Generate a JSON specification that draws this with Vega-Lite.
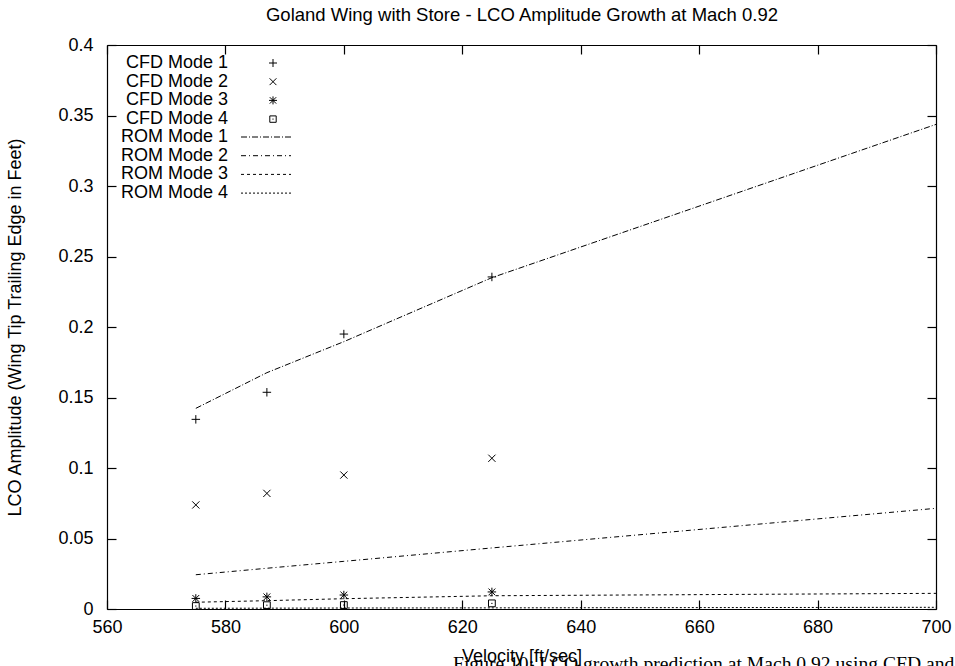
{
  "$schema": "https://vega.github.io/schema/vega-lite/v6.json",
  "width": 829,
  "height": 564,
  "autosize": {"type": "none"},
  "padding": {"left": 107, "top": 45, "right": 19, "bottom": 57},
  "background": "white",
  "config": {
    "font": "Liberation Sans",
    "view": {"stroke": null},
    "axis": {
      "grid": false,
      "domainColor": "black",
      "domainWidth": 1.2,
      "tickColor": "black",
      "tickWidth": 1.2,
      "tickSize": -9,
      "labelColor": "black",
      "titleColor": "black",
      "labelFont": "Liberation Sans",
      "titleFont": "Liberation Sans",
      "labelFontSize": 18,
      "titleFontSize": 18,
      "titleFontWeight": "normal"
    },
    "legend": {
      "labelFont": "Liberation Sans",
      "labelFontSize": 18,
      "labelColor": "black",
      "padding": 0,
      "rowPadding": 0.7
    }
  },
  "title": {
    "text": "Figure 10: LCO growth prediction at Mach 0.92 using CFD and ROM",
    "orient": "bottom",
    "anchor": "start",
    "frame": "group",
    "dx": 346,
    "offset": 5,
    "baseline": "alphabetic",
    "font": "Liberation Serif",
    "fontSize": 19.6,
    "fontWeight": "normal",
    "color": "black"
  },
  "datasets": {
    "rom": [
      {"series": "ROM Mode 1", "velocity": 575, "amplitude": 0.1423},
      {"series": "ROM Mode 1", "velocity": 587, "amplitude": 0.1676},
      {"series": "ROM Mode 1", "velocity": 600, "amplitude": 0.1896},
      {"series": "ROM Mode 1", "velocity": 625, "amplitude": 0.235},
      {"series": "ROM Mode 1", "velocity": 700, "amplitude": 0.3437},
      {"series": "ROM Mode 2", "velocity": 575, "amplitude": 0.0243},
      {"series": "ROM Mode 2", "velocity": 587, "amplitude": 0.0289},
      {"series": "ROM Mode 2", "velocity": 600, "amplitude": 0.0338},
      {"series": "ROM Mode 2", "velocity": 625, "amplitude": 0.0433},
      {"series": "ROM Mode 2", "velocity": 700, "amplitude": 0.0714},
      {"series": "ROM Mode 3", "velocity": 575, "amplitude": 0.0048},
      {"series": "ROM Mode 3", "velocity": 587, "amplitude": 0.0059},
      {"series": "ROM Mode 3", "velocity": 600, "amplitude": 0.0073},
      {"series": "ROM Mode 3", "velocity": 625, "amplitude": 0.0094},
      {"series": "ROM Mode 3", "velocity": 700, "amplitude": 0.0111},
      {"series": "ROM Mode 4", "velocity": 575, "amplitude": 0.0005},
      {"series": "ROM Mode 4", "velocity": 587, "amplitude": 0.0006},
      {"series": "ROM Mode 4", "velocity": 600, "amplitude": 0.0007},
      {"series": "ROM Mode 4", "velocity": 625, "amplitude": 0.0008},
      {"series": "ROM Mode 4", "velocity": 700, "amplitude": 0.0012}
    ],
    "cfd": [
      {"series": "CFD Mode 1", "velocity": 575, "amplitude": 0.1345},
      {"series": "CFD Mode 1", "velocity": 587, "amplitude": 0.1537},
      {"series": "CFD Mode 1", "velocity": 600, "amplitude": 0.195},
      {"series": "CFD Mode 1", "velocity": 625, "amplitude": 0.2355},
      {"series": "CFD Mode 2", "velocity": 575, "amplitude": 0.0738},
      {"series": "CFD Mode 2", "velocity": 587, "amplitude": 0.082},
      {"series": "CFD Mode 2", "velocity": 600, "amplitude": 0.095},
      {"series": "CFD Mode 2", "velocity": 625, "amplitude": 0.1069},
      {"series": "CFD Mode 3", "velocity": 575, "amplitude": 0.0075},
      {"series": "CFD Mode 3", "velocity": 587, "amplitude": 0.0086},
      {"series": "CFD Mode 3", "velocity": 600, "amplitude": 0.0099},
      {"series": "CFD Mode 3", "velocity": 625, "amplitude": 0.0121},
      {"series": "CFD Mode 4", "velocity": 575, "amplitude": 0.0021},
      {"series": "CFD Mode 4", "velocity": 587, "amplitude": 0.0027},
      {"series": "CFD Mode 4", "velocity": 600, "amplitude": 0.0028},
      {"series": "CFD Mode 4", "velocity": 625, "amplitude": 0.004}
    ]
  },
  "layer": [
    {
      "data": {"name": "rom"},
      "mark": {"type": "line", "color": "black", "strokeWidth": 1},
      "encoding": {
        "x": {
          "field": "velocity",
          "type": "quantitative",
          "scale": {"domain": [560, 700], "nice": false, "zero": false},
          "axis": {
            "orient": "bottom",
            "values": [560, 580, 600, 620, 640, 660, 680, 700],
            "labelFlush": false,
            "labelPadding": 18,
            "title": "Velocity [ft/sec]",
            "titleX": 414.5,
            "titleY": 52,
            "titleAlign": "center",
            "titleBaseline": "alphabetic"
          }
        },
        "y": {
          "field": "amplitude",
          "type": "quantitative",
          "scale": {"domain": [0, 0.4], "nice": false},
          "axis": {
            "orient": "left",
            "values": [0, 0.05, 0.1, 0.15, 0.2, 0.25, 0.3, 0.35, 0.4],
            "format": "~g",
            "labelFlush": false,
            "labelPadding": 23,
            "title": "LCO Amplitude (Wing Tip Trailing Edge in Feet)",
            "titleX": -92,
            "titleY": 282,
            "titleAngle": -90,
            "titleAlign": "center",
            "titleBaseline": "middle"
          }
        },
        "strokeDash": {
          "field": "series",
          "type": "nominal",
          "scale": {
            "domain": ["ROM Mode 1", "ROM Mode 2", "ROM Mode 3", "ROM Mode 4"],
            "range": [[6, 2, 1, 2], [5, 3, 1, 3], [3, 3], [2, 2]]
          },
          "legend": {
            "orient": "none",
            "legendX": 150,
            "legendY": 83,
            "title": null,
            "symbolType": "M-5,0H5",
            "symbolSize": 100,
            "symbolStrokeWidth": 1,
            "symbolStrokeColor": "black",
            "symbolFillColor": "transparent",
            "labelAlign": "right",
            "labelOffset": -47
          }
        }
      }
    },
    {
      "data": {"name": "cfd"},
      "mark": {"type": "point", "filled": false, "color": "black", "strokeWidth": 1, "size": 72, "opacity": 1},
      "encoding": {
        "x": {
          "field": "velocity",
          "type": "quantitative",
          "scale": {"domain": [560, 700], "nice": false, "zero": false},
          "axis": {
            "orient": "top",
            "values": [560, 580, 600, 620, 640, 660, 680, 700],
            "labels": false,
            "title": "Goland Wing with Store - LCO Amplitude Growth at Mach 0.92",
            "titleX": 414.5,
            "titleY": -24.5,
            "titleAlign": "center",
            "titleBaseline": "alphabetic",
            "titleFontSize": 18.5
          }
        },
        "y": {
          "field": "amplitude",
          "type": "quantitative",
          "scale": {"domain": [0, 0.4], "nice": false},
          "axis": {
            "orient": "right",
            "values": [0, 0.05, 0.1, 0.15, 0.2, 0.25, 0.3, 0.35, 0.4],
            "labels": false,
            "title": null
          }
        },
        "shape": {
          "field": "series",
          "type": "nominal",
          "scale": {
            "domain": ["CFD Mode 1", "CFD Mode 2", "CFD Mode 3", "CFD Mode 4"],
            "range": [
              "M-1,0H1M0,-1V1",
              "M-0.85,-0.85L0.85,0.85M-0.85,0.85L0.85,-0.85",
              "M-1,0H1M0,-1V1M-0.8,-0.8L0.8,0.8M-0.8,0.8L0.8,-0.8",
              "M-0.8,-0.8H0.8V0.8H-0.8ZM-0.15,0H0.15"
            ]
          },
          "legend": {
            "orient": "none",
            "legendX": 157,
            "legendY": 9,
            "title": null,
            "symbolSize": 64,
            "symbolStrokeWidth": 1,
            "symbolStrokeColor": "black",
            "symbolFillColor": "transparent",
            "labelAlign": "right",
            "labelOffset": -54
          }
        }
      }
    }
  ],
  "resolve": {"axis": {"x": "independent", "y": "independent"}}
}
